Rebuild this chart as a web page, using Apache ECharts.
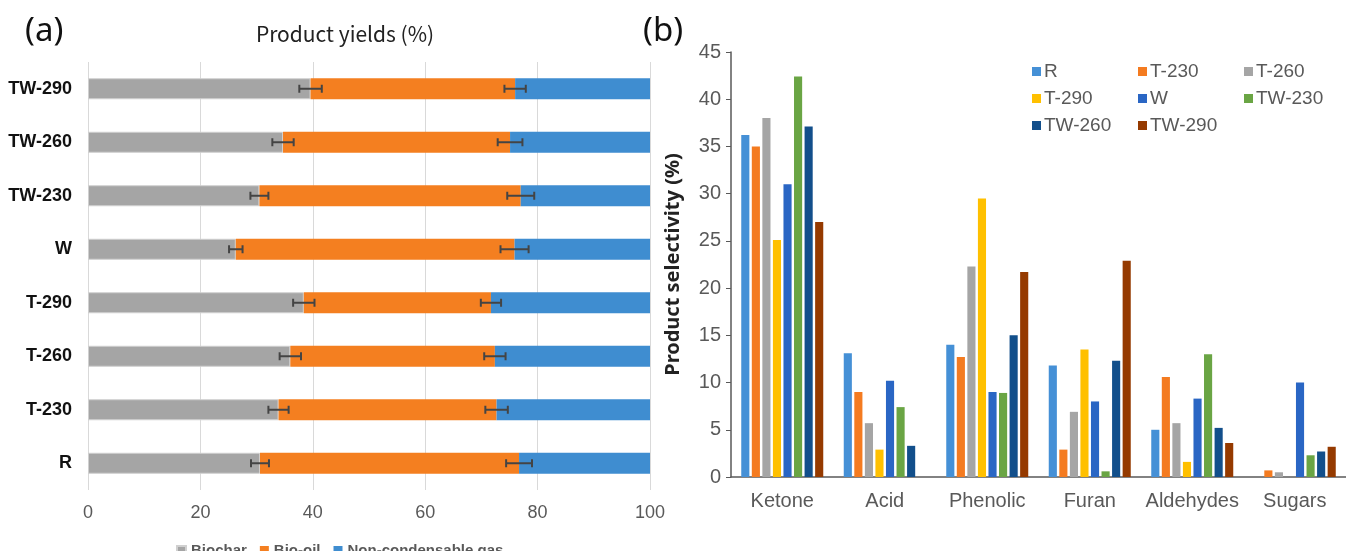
<!DOCTYPE html>
<html>
<head>
<meta charset="utf-8">
<script src="https://cdn.jsdelivr.net/npm/echarts@6/dist/echarts.min.js"></script>
<style>
    html, body { margin: 0; padding: 0; background: #fff; }
    #main { width: 1346px; height: 551px; }
</style>
</head>
<body>
<div id="main"></div>
<script>
/* (a) 产物产率, 从下到上 */
var samples = ['R', 'T-230', 'T-260', 'T-290', 'W', 'TW-230', 'TW-260', 'TW-290'];
var biochar = [30.6, 33.9, 36.0, 38.4, 26.3, 30.5, 34.7, 39.6];
var bioOil = [46.1, 38.8, 36.4, 33.3, 49.6, 46.5, 40.4, 36.4];
var gas = [23.3, 27.3, 27.6, 28.3, 24.1, 23.0, 24.9, 24.0];
var errChar = [1.6, 1.8, 1.9, 1.9, 1.2, 1.6, 1.9, 2.0];
var errOil = [2.3, 2.0, 1.9, 1.8, 2.5, 2.4, 2.2, 1.9];
var yieldTicks = [0, 20, 40, 60, 80, 100];

/* (b) 产物选择性 */
var groups = ['Ketone', 'Acid', 'Phenolic', 'Furan', 'Aldehydes', 'Sugars'];
var selR = [36.2, 13.1, 14.0, 11.8, 5.0, 0];
var selT230 = [35.0, 9.0, 12.7, 2.9, 10.6, 0.7];
var selT260 = [38.0, 5.7, 22.3, 6.9, 5.7, 0.5];
var selT290 = [25.1, 2.9, 29.5, 13.5, 1.6, 0];
var selW = [31.0, 10.2, 9.0, 8.0, 8.3, 10.0];
var selTW230 = [42.4, 7.4, 8.9, 0.6, 13.0, 2.3];
var selTW260 = [37.1, 3.3, 15.0, 12.3, 5.2, 2.7];
var selTW290 = [27.0, 0, 21.7, 22.9, 3.6, 3.2];

var myChart = echarts.init(document.getElementById('main'));

var bSeries = [
    ['R', selR, '#4590d6'],
    ['T-230', selT230, '#f47b20'],
    ['T-260', selT260, '#a5a5a5'],
    ['T-290', selT290, '#ffc000'],
    ['W', selW, '#2a66c4'],
    ['TW-230', selTW230, '#6aa544'],
    ['TW-260', selTW260, '#124f8b'],
    ['TW-290', selTW290, '#953a00']
];

// 误差线: 在堆叠边界处画横线和端帽
function errRender(params, api) {
    var yv = api.value(0);
    var c = api.value(1);
    var e = api.value(2);
    var p1 = api.coord([c - e, yv]);
    var p2 = api.coord([c + e, yv]);
    var h = 4;
    var st = { stroke: '#444', lineWidth: 2 };
    return {
        type: 'group',
        children: [
            { type: 'line', shape: { x1: p1[0], y1: p1[1], x2: p2[0], y2: p2[1] }, style: st },
            { type: 'line', shape: { x1: p1[0], y1: p1[1] - h, x2: p1[0], y2: p1[1] + h }, style: st },
            { type: 'line', shape: { x1: p2[0], y1: p2[1] - h, x2: p2[0], y2: p2[1] + h }, style: st }
        ]
    };
}

var errData = [];
for (var i = 0; i < samples.length; i++) {
    errData.push([i, biochar[i], errChar[i]]);
    errData.push([i, biochar[i] + bioOil[i], errOil[i]]);
}

var series = [
    { name: 'Biochar', type: 'bar', stack: 'y', xAxisIndex: 0, yAxisIndex: 0, barWidth: 21,
      itemStyle: { color: '#a5a5a5', borderColor: '#d0d0d0', borderWidth: 1 }, data: biochar },
    { name: 'Bio-oil', type: 'bar', stack: 'y', xAxisIndex: 0, yAxisIndex: 0, barWidth: 21,
      itemStyle: { color: '#f47f20' }, data: bioOil },
    { name: 'Non-condensable gas', type: 'bar', stack: 'y', xAxisIndex: 0, yAxisIndex: 0, barWidth: 21,
      itemStyle: { color: '#3f8dd0' }, data: gas },
    { type: 'custom', xAxisIndex: 0, yAxisIndex: 0, renderItem: errRender, z: 10,
      encode: { y: 0, x: 1 }, data: errData }
];

bSeries.forEach(function (s) {
    series.push({
        name: s[0], type: 'bar', xAxisIndex: 1, yAxisIndex: 1,
        barGap: '30%', barCategoryGap: '20%',
        itemStyle: { color: s[2] }, data: s[1]
    });
});

// (b) 图例: 三列排布
var legendCols = [1032, 1138, 1244];
var legendRows = [62, 89, 116];
var legends = [
    { data: ['Biochar', 'Bio-oil', 'Non-condensable gas'], left: 171, top: 538,
      itemWidth: 9, itemHeight: 9, itemGap: 13, icon: 'rect',
      textStyle: { fontSize: 15, fontWeight: 'bold', color: '#595959' } }
];
bSeries.forEach(function (s, k) {
    legends.push({
        data: [s[0]], left: legendCols[k % 3], top: legendRows[Math.floor(k / 3)],
        itemWidth: 9, itemHeight: 9, icon: 'rect', padding: 0,
        textStyle: { fontSize: 19, color: '#595959', padding: [0, 0, 0, -2] }
    });
});

var option = {
    animation: false,
    textStyle: { fontFamily: "'Liberation Sans', Arial, sans-serif" },
    title: [
        { text: '(a)', left: 20, top: 10, textStyle: { fontSize: 33, fontWeight: 'normal', color: '#111',
            fontFamily: "'Noto Sans', sans-serif" } },
        { text: 'Product yields (%)', left: 340, top: 19, textAlign: 'center',
          textStyle: { fontSize: 21, fontWeight: 'normal', color: '#222',
            fontFamily: "'Noto Sans CJK SC', sans-serif" } },
        { text: '(b)', left: 638, top: 10, textStyle: { fontSize: 33, fontWeight: 'normal', color: '#111',
            fontFamily: "'Noto Sans', sans-serif" } }
    ],
    legend: legends,
    grid: [
        { left: 88, width: 562, top: 62, height: 428 },
        { left: 731, width: 620, top: 52, height: 425 }
    ],
    xAxis: [
        { gridIndex: 0, type: 'value', min: 0, max: 100, interval: 20,
          axisLine: { show: false }, axisTick: { show: false },
          splitLine: { lineStyle: { color: '#d9d9d9', width: 1 } },
          axisLabel: { fontSize: 18, color: '#595959', margin: 14,
              formatter: function (v) { return yieldTicks.indexOf(v) >= 0 ? v : ''; } } },
        { gridIndex: 1, type: 'category', data: groups,
          axisLine: { lineStyle: { color: '#595959', width: 1.5 } },
          axisTick: { alignWithLabel: true, length: 6, lineStyle: { color: '#595959', width: 1.5 } },
          axisLabel: { fontSize: 20, color: '#595959', margin: 14, interval: 0 } }
    ],
    yAxis: [
        { gridIndex: 0, type: 'category', data: samples,
          axisLine: { show: false }, axisTick: { show: false },
          axisLabel: { fontSize: 18, fontWeight: 'bold', color: '#111', margin: 16 } },
        { gridIndex: 1, type: 'value', min: 0, max: 45, interval: 5,
          name: 'Product selectivity (%)', nameLocation: 'middle', nameGap: 48,
          nameTextStyle: { fontSize: 20, fontWeight: 'bold', color: '#222',
              fontFamily: "'Noto Sans', sans-serif" },
          axisLine: { show: true, lineStyle: { color: '#595959', width: 1.5 } },
          axisTick: { show: true, length: 5, lineStyle: { color: '#595959' } },
          splitLine: { show: false },
          axisLabel: { fontSize: 20, color: '#595959', margin: 10 } }
    ],
    series: series
};

myChart.setOption(option);
</script>
</body>
</html>
